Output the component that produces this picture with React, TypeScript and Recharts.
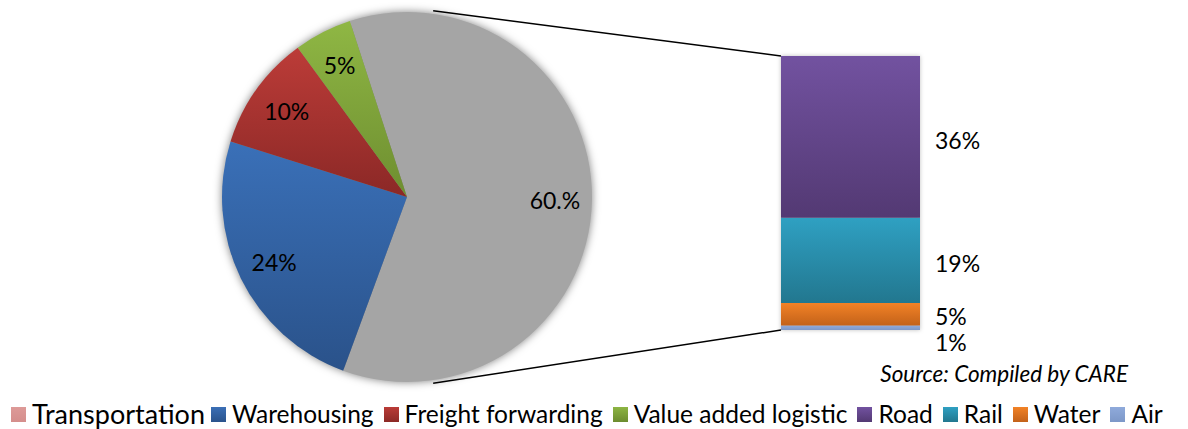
import React from 'react';
import { PieChart, Pie, Cell, BarChart, Bar, XAxis, YAxis, LabelList } from 'recharts';

const pieNames = ['Transportation', 'Warehousing', 'Freight forwarding', 'Value added logistic'];
const pieValues = [60, 24, 10, 5];
const pieLabels = ['60.%', '24%', '10%', '5%'];
const barNames = ['Road', 'Rail', 'Water', 'Air'];
const barValues = [36, 19, 5, 1];
const barLabels = ['36%', '19%', '5%', '1%'];
const sourceText = 'Source: Compiled by CARE';

const pieFills = ['#A5A5A5', 'url(#gBlue)', 'url(#gRed)', 'url(#gGreen)'];
const barGrad: Record<string, [string, string]> = {
  Road: ['#7252A0', '#533973'],
  Rail: ['#2FA0C2', '#22778F'],
  Water: ['#F28226', '#C3621A'],
  Air: ['#8FAADB', '#7D98C8'],
};
const legendColors: [string, string][] = [
  ['#DD9A98', '#D58E8C'],
  ['#3B6FB6', '#2A538C'],
  ['#BA3B37', '#8C2926'],
  ['#8DB543', '#6C8C2F'],
  ['#7252A0', '#533973'],
  ['#2FA0C2', '#22778F'],
  ['#F28226', '#C3621A'],
  ['#8FAADB', '#7D98C8'],
];

const FONT = 'Lato, "Open Sans", sans-serif';
const W = 1188;
const H = 429;

// pie geometry
const PCX = 407;
const PCY = 197;
const PR = 185;
const START = 108;

// bar geometry
const BL = 760;
const BW = 260;
const BH = 400;
const BM = { top: 56, bottom: 70, left: 21, right: 100 };

const pieData = pieNames.map((n, i) => ({ name: n, value: pieValues[i], label: pieLabels[i] }));
const barRow: Record<string, number | string> = { name: 'Transportation' };
barNames.forEach((n, i) => (barRow[n] = barValues[i]));
const barData = [barRow];
const barTotal = barValues.reduce((a, b) => a + b, 0);

const RAD = Math.PI / 180;

const renderPieLabel = (p: any) => {
  const r = p.outerRadius * 0.8;
  const x = p.cx + r * Math.cos(-p.midAngle * RAD);
  const y = p.cy + r * Math.sin(-p.midAngle * RAD);
  return (
    <text x={x} y={y} textAnchor="middle" dominantBaseline="central" fill="#000" fontSize={23} fontFamily={FONT}>
      {pieData[p.index].label}
    </text>
  );
};

const labelDy = [3, 3, 2, 14];

const makeBarLabel = (idx: number) => (p: any) => {
  const x = Number(p.x) + Number(p.width) + 15;
  const y = Number(p.y) + Number(p.height) / 2 + labelDy[idx];
  return (
    <text x={x} y={y} dominantBaseline="central" fill="#000" fontSize={23} fontFamily={FONT}>
      {barLabels[idx]}
    </text>
  );
};

const pieSeries = (withLabels: boolean, transparent: boolean) => (
  <Pie
    data={pieData}
    dataKey="value"
    cx={PCX}
    cy={PCY}
    outerRadius={PR}
    startAngle={START}
    endAngle={START - 360}
    stroke="none"
    isAnimationActive={false}
    labelLine={false}
    label={withLabels ? renderPieLabel : false}
  >
    {pieData.map((d, i) => (
      <Cell key={d.name} fill={transparent ? 'transparent' : pieFills[i]} />
    ))}
  </Pie>
);

const pieDefs = (
  <defs>
    <linearGradient id="gBlue" x1="0" y1="0" x2="0" y2="1">
      <stop offset="0%" stopColor="#3A70B8" />
      <stop offset="100%" stopColor="#2A528A" />
    </linearGradient>
    <linearGradient id="gRed" x1="0" y1="0" x2="0" y2="1">
      <stop offset="0%" stopColor="#BC3C38" />
      <stop offset="100%" stopColor="#8B2826" />
    </linearGradient>
    <linearGradient id="gGreen" x1="0" y1="0" x2="0" y2="1">
      <stop offset="0%" stopColor="#8FB744" />
      <stop offset="100%" stopColor="#6E8E30" />
    </linearGradient>
  </defs>
);

const ZERO = { top: 0, right: 0, bottom: 0, left: 0 };

export default function App() {
  const plotH = BH - BM.top - BM.bottom;
  const barLeftX = BL + BM.left;
  const barTopY = BM.top;
  const barBottomY = BM.top + plotH * (barTotal / barTotal);
  const a = 82 * RAD;
  const p1 = { x: PCX + (PR + 3) * Math.cos(a), y: PCY - (PR + 3) * Math.sin(a) };
  const p2 = { x: PCX + (PR + 3) * Math.cos(a), y: PCY + (PR + 3) * Math.sin(a) };
  const stackOrder = [...barNames].reverse();

  return (
    <div style={{ position: 'absolute', left: 0, top: 0, width: W, height: H, background: '#fff', fontFamily: FONT }}>
      <div style={{ position: 'absolute', left: 0, top: 0, filter: 'drop-shadow(0px 0px 4px rgba(0,0,0,0.5))' }}>
        <PieChart width={800} height={395} margin={ZERO}>
          {pieDefs}
          {pieSeries(false, false)}
        </PieChart>
      </div>
      <div style={{ position: 'absolute', left: 0, top: 0 }}>
        <PieChart width={800} height={395} margin={ZERO}>
          {pieSeries(true, true)}
        </PieChart>
      </div>
      <div style={{ position: 'absolute', left: BL, top: 0, filter: 'drop-shadow(0px 0px 2px rgba(0,0,0,0.25))' }}>
        <BarChart width={BW} height={BH} data={barData} margin={BM} barCategoryGap={0}>
          <defs>
            {barNames.map((n) => (
              <linearGradient key={n} id={'b' + n} x1="0" y1="0" x2="0" y2="1">
                <stop offset="0%" stopColor={barGrad[n][0]} />
                <stop offset="100%" stopColor={barGrad[n][1]} />
              </linearGradient>
            ))}
          </defs>
          <XAxis dataKey="name" hide />
          <YAxis hide domain={[0, barTotal]} />
          {stackOrder.map((n) => (
            <Bar key={n} dataKey={n} stackId="s" fill={'url(#b' + n + ')'} isAnimationActive={false} />
          ))}
        </BarChart>
      </div>
      <div style={{ position: 'absolute', left: BL, top: 0 }}>
        <BarChart width={BW} height={BH} data={barData} margin={BM} barCategoryGap={0}>
          <XAxis dataKey="name" hide />
          <YAxis hide domain={[0, barTotal]} />
          {stackOrder.map((n) => {
            const idx = barNames.indexOf(n);
            return (
              <Bar key={n} dataKey={n} stackId="s" fill="transparent" isAnimationActive={false}>
                <LabelList dataKey={n} content={makeBarLabel(idx)} />
              </Bar>
            );
          })}
        </BarChart>
      </div>
      <svg width={W} height={H} style={{ position: 'absolute', left: 0, top: 0, pointerEvents: 'none' }}>
        <line x1={p1.x} y1={p1.y} x2={barLeftX} y2={barTopY} stroke="#000" strokeWidth={1.5} />
        <line x1={p2.x} y1={p2.y} x2={barLeftX} y2={barBottomY} stroke="#000" strokeWidth={1.5} />
        <text x={1128} y={382} textAnchor="end" fontSize={22.5} fontStyle="italic" fontFamily={FONT} fill="#000">
          {sourceText}
        </text>
      </svg>
      <div style={{ position: 'absolute', left: 11, top: 399, display: 'flex', alignItems: 'center', whiteSpace: 'nowrap', color: '#000' }}>
        {[...pieNames, ...barNames].map((n, i) => (
          <div key={n} style={{ display: 'flex', alignItems: 'center', marginRight: i === 0 ? 6 : 10 }}>
            <div style={{ width: 15, height: 15, background: `linear-gradient(${legendColors[i][0]}, ${legendColors[i][1]})`, marginRight: 6 }} />
            <span style={{ fontSize: i === 0 ? 27 : 24.5, lineHeight: '30px' }}>{n}</span>
          </div>
        ))}
      </div>
    </div>
  );
}
